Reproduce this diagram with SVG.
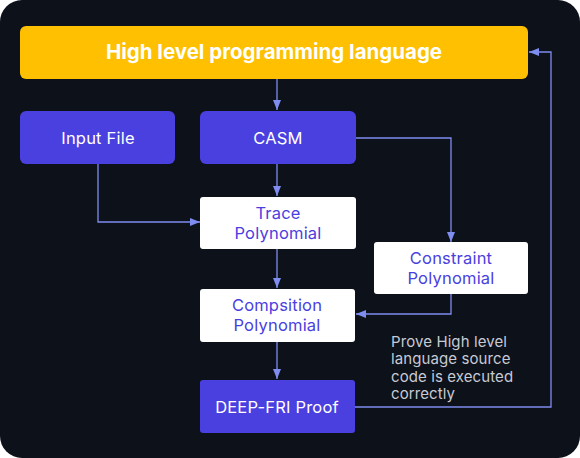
<svg xmlns="http://www.w3.org/2000/svg" width="580" height="458" viewBox="0 0 580 458">
<defs>
<marker id="ah" viewBox="0 0 10 10" refX="10" refY="5" markerWidth="10" markerHeight="10" markerUnits="userSpaceOnUse" orient="auto">
<path d="M0,1 L10,5 L0,9 z" fill="#7f8cf0"/>
</marker>
<style>
.blue{fill:#4a40e0}
.white{fill:#ffffff}
.lbl{font-family:Inter,"Noto Sans","Liberation Sans",sans-serif;font-size:16.5px;text-anchor:middle;letter-spacing:0.2px}
.lw{fill:#ffffff}
.lb{fill:#4a40e0}
.conn{fill:none;stroke:#7f8cf0;stroke-width:1.3;marker-end:url(#ah)}
.note{font-family:Inter,"Noto Sans","Liberation Sans",sans-serif;font-size:15px;fill:#c8cad4;letter-spacing:0.1px}
</style>
</defs>
<rect width="580" height="458" fill="#ffffff"/>
<rect width="580" height="458" rx="22" fill="#0c111a"/>
<g id="connectors">
<path class="conn" d="M277,79 V110"/>
<path class="conn" d="M98,164 V222 H200"/>
<path class="conn" d="M277,164 V196"/>
<path class="conn" d="M356,138 H451 V242"/>
<path class="conn" d="M277,249 V288"/>
<path class="conn" d="M451,294 V314 H356"/>
<path class="conn" d="M277,342 V379"/>
<path class="conn" d="M355,407 H551 V52 H529"/>
</g>
<g id="hll">
<rect x="20" y="26" width="508" height="53" rx="6" fill="#fec000"/>
<text x="274" y="59" font-family="Inter,'Noto Sans','Liberation Sans',sans-serif" font-size="20.5" font-weight="700" fill="#ffffff" text-anchor="middle">High level programming language</text>
</g>
<g id="input">
<rect class="blue" x="20" y="111" width="155" height="53" rx="6"/>
<text class="lbl lw" x="98" y="143.5">Input File</text>
</g>
<g id="casm">
<rect class="blue" x="200" y="111" width="156" height="53" rx="6"/>
<text class="lbl lw" x="278" y="143.5">CASM</text>
</g>
<g id="trace">
<rect class="white" x="200" y="197" width="156" height="52" rx="3"/>
<text class="lbl lb" x="278" y="218.5">Trace</text>
<text class="lbl lb" x="278" y="238.5">Polynomial</text>
</g>
<g id="constraint">
<rect class="white" x="374" y="242" width="154" height="52" rx="3"/>
<text class="lbl lb" x="451" y="263.5">Constraint</text>
<text class="lbl lb" x="451" y="283.5">Polynomial</text>
</g>
<g id="composition">
<rect class="white" x="200" y="289" width="155" height="53" rx="3"/>
<text class="lbl lb" x="277" y="310.5">Compsition</text>
<text class="lbl lb" x="277" y="330.5">Polynomial</text>
</g>
<g id="deepfri">
<rect class="blue" x="200" y="380" width="155" height="53" rx="3"/>
<text class="lbl lw" x="277" y="412.5">DEEP-FRI Proof</text>
</g>
<g id="note">
<text class="note" x="391" y="347">Prove High level</text>
<text class="note" x="391" y="364.3">language source</text>
<text class="note" x="391" y="381.6">code is executed</text>
<text class="note" x="391" y="398.9">correctly</text>
</g>
</svg>
